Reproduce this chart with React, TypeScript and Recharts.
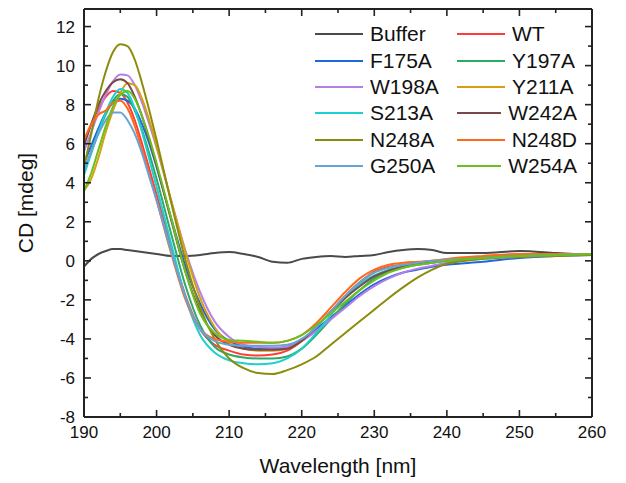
import { Legend, Line, LineChart, XAxis, YAxis } from "recharts";

const WAVELENGTH = [190, 191, 192, 193, 194, 195, 196, 197, 198, 199, 200, 202, 204, 206, 208, 210, 212, 214, 216, 218, 220, 222, 224, 226, 228, 230, 232, 234, 236, 238, 240, 245, 250, 255, 260];

const BUFFER = [-0.3, 0.1, 0.35, 0.5, 0.6, 0.6, 0.55, 0.5, 0.45, 0.4, 0.35, 0.25, 0.25, 0.3, 0.4, 0.45, 0.35, 0.2, -0.05, -0.1, 0.1, 0.2, 0.25, 0.2, 0.25, 0.3, 0.45, 0.55, 0.6, 0.55, 0.4, 0.4, 0.5, 0.4, 0.3];
const WT = [6.1, 7.0, 7.8, 8.4, 8.7, 8.6, 8.1, 7.2, 6.0, 4.7, 3.4, 0.7, -1.8, -3.5, -4.3, -4.6, -4.8, -4.85, -4.8, -4.6, -4.1, -3.4, -2.6, -1.8, -1.1, -0.55, -0.3, -0.2, -0.15, -0.05, 0.0, 0.15, 0.3, 0.35, 0.35];
const F175A = [5.0, 5.9, 6.8, 7.6, 8.1, 8.3, 8.2, 7.8, 7.0, 6.0, 4.8, 2.2, -0.3, -2.2, -3.5, -4.1, -4.4, -4.5, -4.5, -4.4, -4.1, -3.5, -2.9, -2.3, -1.7, -1.2, -0.85, -0.6, -0.45, -0.3, -0.2, -0.05, 0.15, 0.25, 0.3];
const Y197A = [4.6, 5.6, 6.6, 7.5, 8.2, 8.55, 8.4, 7.7, 6.7, 5.5, 4.2, 1.4, -1.3, -3.3, -4.4, -4.8, -4.95, -5.0, -5.0, -4.9, -4.5, -3.8, -3.0, -2.2, -1.5, -0.9, -0.55, -0.35, -0.2, -0.1, 0.0, 0.15, 0.25, 0.3, 0.35];
const W198A = [5.6, 6.6, 7.6, 8.5, 9.2, 9.55, 9.5, 9.0, 8.1, 7.0, 5.8, 3.1, 0.5, -1.6, -3.1, -3.9, -4.3, -4.4, -4.45, -4.4, -4.1, -3.6, -3.0, -2.4, -1.8, -1.3, -0.9, -0.6, -0.4, -0.25, -0.1, 0.1, 0.2, 0.3, 0.35];
const Y211A = [3.6, 4.2, 5.3, 6.6, 7.7, 8.6, 9.1, 9.0, 8.3, 7.2, 5.9, 3.1, 0.4, -1.9, -3.4, -4.2, -4.5, -4.6, -4.6, -4.5, -4.1, -3.4, -2.6, -1.8, -1.1, -0.6, -0.35, -0.2, -0.1, 0.0, 0.05, 0.15, 0.25, 0.3, 0.35];
const S213A = [4.4, 5.5, 6.6, 7.6, 8.4, 8.8, 8.6, 7.8, 6.6, 5.2, 3.8, 0.9, -1.9, -3.8, -4.7, -5.1, -5.25, -5.3, -5.25, -5.0, -4.5, -3.7, -2.8, -1.9, -1.2, -0.75, -0.45, -0.3, -0.15, -0.05, 0.05, 0.2, 0.3, 0.35, 0.35];
const W242A = [5.9, 7.0, 8.0, 8.7, 9.15, 9.3, 9.1, 8.4, 7.4, 6.2, 4.9, 2.1, -0.6, -2.6, -3.8, -4.3, -4.5, -4.55, -4.55, -4.5, -4.1, -3.4, -2.6, -1.9, -1.3, -0.8, -0.5, -0.3, -0.15, -0.05, 0.05, 0.15, 0.25, 0.3, 0.35];
const N248A = [4.8, 6.5, 8.3, 9.7, 10.7, 11.1, 11.0, 10.3, 9.1, 7.7, 6.2, 3.0, 0.0, -2.4, -4.0, -5.0, -5.5, -5.75, -5.8, -5.6, -5.3, -4.9, -4.3, -3.7, -3.1, -2.5, -1.9, -1.35, -0.85, -0.45, -0.15, 0.1, 0.2, 0.25, 0.3];
const N248D = [6.2, 7.0, 7.5, 7.7, 8.1, 8.2, 7.8, 6.9, 5.7, 4.4, 3.1, 0.4, -2.0, -3.5, -4.0, -4.15, -4.2, -4.2, -4.2, -4.1, -3.8, -3.2, -2.4, -1.6, -0.9, -0.45, -0.2, -0.1, -0.05, 0.0, 0.1, 0.25, 0.35, 0.35, 0.35];
const G250A = [4.7, 5.6, 6.5, 7.2, 7.6, 7.6, 7.2, 6.5, 5.5, 4.3, 3.1, 0.5, -1.9, -3.5, -4.1, -4.3, -4.35, -4.35, -4.35, -4.3, -4.0, -3.4, -2.6, -1.8, -1.1, -0.6, -0.35, -0.2, -0.1, 0.0, 0.05, 0.15, 0.25, 0.3, 0.35];
const W254A = [3.6, 4.5, 5.7, 6.9, 7.9, 8.5, 8.7, 8.3, 7.4, 6.3, 5.0, 2.2, -0.6, -2.7, -3.7, -4.05, -4.1, -4.15, -4.2, -4.1, -3.8, -3.3, -2.7, -2.1, -1.5, -1.0, -0.6, -0.35, -0.2, -0.1, 0.0, 0.15, 0.25, 0.3, 0.35];

const X_TICKS = [190, 195, 200, 205, 210, 215, 220, 225, 230, 235, 240, 245, 250, 255, 260];
const Y_TICKS = [-8, -7, -6, -5, -4, -3, -2, -1, 0, 1, 2, 3, 4, 5, 6, 7, 8, 9, 10, 11, 12];

const series = [
  { name: "Buffer", values: BUFFER, color: "#4a4a4a" },
  { name: "WT", values: WT, color: "#ff3c3c" },
  { name: "F175A", values: F175A, color: "#1f68da" },
  { name: "Y197A", values: Y197A, color: "#2fa865" },
  { name: "W198A", values: W198A, color: "#b47fe8" },
  { name: "Y211A", values: Y211A, color: "#d6a111" },
  { name: "S213A", values: S213A, color: "#1ecfcf" },
  { name: "W242A", values: W242A, color: "#7a4848" },
  { name: "N248A", values: N248A, color: "#8c8c0a" },
  { name: "N248D", values: N248D, color: "#ff6a1a" },
  { name: "G250A", values: G250A, color: "#68a2d8" },
  { name: "W254A", values: W254A, color: "#6bbf1f" },
];
const ORDER = series.map((s) => s.name);

const data = WAVELENGTH.map((w, i) => {
  const row: Record<string, number> = { w };
  series.forEach((s) => (row[s.name] = s.values[i]));
  return row;
});

const FONT = "'Liberation Sans', Arial, sans-serif";
const AXIS = "#222";

function LeftTick({ x, y, payload }: any) {
  const major = payload.value % 2 === 0;
  return (
    <g>
      <line x1={x} x2={x + (major ? 7 : 4)} y1={y} y2={y} stroke={AXIS} strokeWidth={1.6} />
      {major && (
        <text x={x - 9} y={y} dy={6} textAnchor="end" fontSize={17} fontFamily={FONT} fill="#111">
          {payload.value}
        </text>
      )}
    </g>
  );
}

function RightTick({ x, y, payload }: any) {
  const major = payload.value % 2 === 0;
  return <line x1={x} x2={x - (major ? 7 : 4)} y1={y} y2={y} stroke={AXIS} strokeWidth={1.6} />;
}

function BottomTick({ x, y, payload }: any) {
  const major = payload.value % 10 === 0;
  return (
    <g>
      <line x1={x} x2={x} y1={y} y2={y - (major ? 7 : 4)} stroke={AXIS} strokeWidth={1.6} />
      {major && (
        <text x={x} y={y + 21} textAnchor="middle" fontSize={17} fontFamily={FONT} fill="#111">
          {payload.value}
        </text>
      )}
    </g>
  );
}

function TopTick({ x, y, payload }: any) {
  const major = payload.value % 10 === 0;
  return <line x1={x} x2={x} y1={y} y2={y + (major ? 7 : 4)} stroke={AXIS} strokeWidth={1.6} />;
}

function LegendBox({ payload }: any) {
  const items = [...(payload || [])].sort((a: any, b: any) => ORDER.indexOf(a.value) - ORDER.indexOf(b.value));
  return (
    <div style={{ display: "grid", gridTemplateColumns: "142px 120px", fontFamily: FONT, fontSize: 21, color: "#111" }}>
      {items.map((p: any) => (
        <div key={p.value} style={{ display: "flex", alignItems: "center", height: 26.4 }}>
          <span style={{ display: "inline-block", width: 48, height: 2, background: p.color, marginRight: 7 }} />
          <span>{p.value}</span>
        </div>
      ))}
    </div>
  );
}

export default function App() {
  return (
    <div style={{ position: "absolute", left: 0, top: 0, background: "#fff" }}>
      <LineChart width={626} height={483} data={data} margin={{ top: 0, right: 0, bottom: 0, left: 0 }}>
        <XAxis
          xAxisId="b"
          dataKey="w"
          type="number"
          domain={[190, 260]}
          ticks={X_TICKS}
          height={66}
          tickSize={0}
          tickMargin={0}
          tick={<BottomTick />}
          axisLine={{ stroke: AXIS, strokeWidth: 2 }}
          tickLine={false}
          interval={0}
          label={{
            content: ({ viewBox }: any) => (
              <text x={viewBox.x + viewBox.width / 2} y={473} textAnchor="middle" fontSize={21} fontFamily={FONT} fill="#111">
                Wavelength [nm]
              </text>
            ),
          }}
        />
        <XAxis
          xAxisId="t"
          orientation="top"
          dataKey="w"
          type="number"
          domain={[190, 260]}
          ticks={X_TICKS}
          height={9}
          tickSize={0}
          tickMargin={0}
          tick={<TopTick />}
          axisLine={{ stroke: AXIS, strokeWidth: 2 }}
          tickLine={false}
          interval={0}
        />
        <YAxis
          yAxisId="l"
          type="number"
          domain={[-8, 12.9]}
          ticks={Y_TICKS}
          width={84}
          tickSize={0}
          tickMargin={0}
          tick={<LeftTick />}
          axisLine={{ stroke: AXIS, strokeWidth: 2 }}
          tickLine={false}
          interval={0}
          allowDataOverflow
          label={{
            content: () => (
              <text x={25} y={203} transform="rotate(-90 25 203)" textAnchor="middle" dominantBaseline="central" fontSize={21} fontFamily={FONT} fill="#111">
                CD [mdeg]
              </text>
            ),
          }}
        />
        <YAxis
          yAxisId="r"
          orientation="right"
          type="number"
          domain={[-8, 12.9]}
          ticks={Y_TICKS}
          width={34}
          tickSize={0}
          tickMargin={0}
          tick={<RightTick />}
          axisLine={{ stroke: AXIS, strokeWidth: 2 }}
          tickLine={false}
          interval={0}
          allowDataOverflow
        />
        <Legend
          layout="horizontal"
          verticalAlign="middle"
          align="center"
          content={<LegendBox />}
          wrapperStyle={{ top: 21, left: 315, width: 270 }}
        />
        {series.map((s) => (
          <Line
            key={s.name}
            xAxisId="b"
            yAxisId="l"
            dataKey={s.name}
            name={s.name}
            type="monotone"
            stroke={s.color}
            strokeWidth={2}
            dot={false}
            isAnimationActive={false}
          />
        ))}
      </LineChart>
    </div>
  );
}
